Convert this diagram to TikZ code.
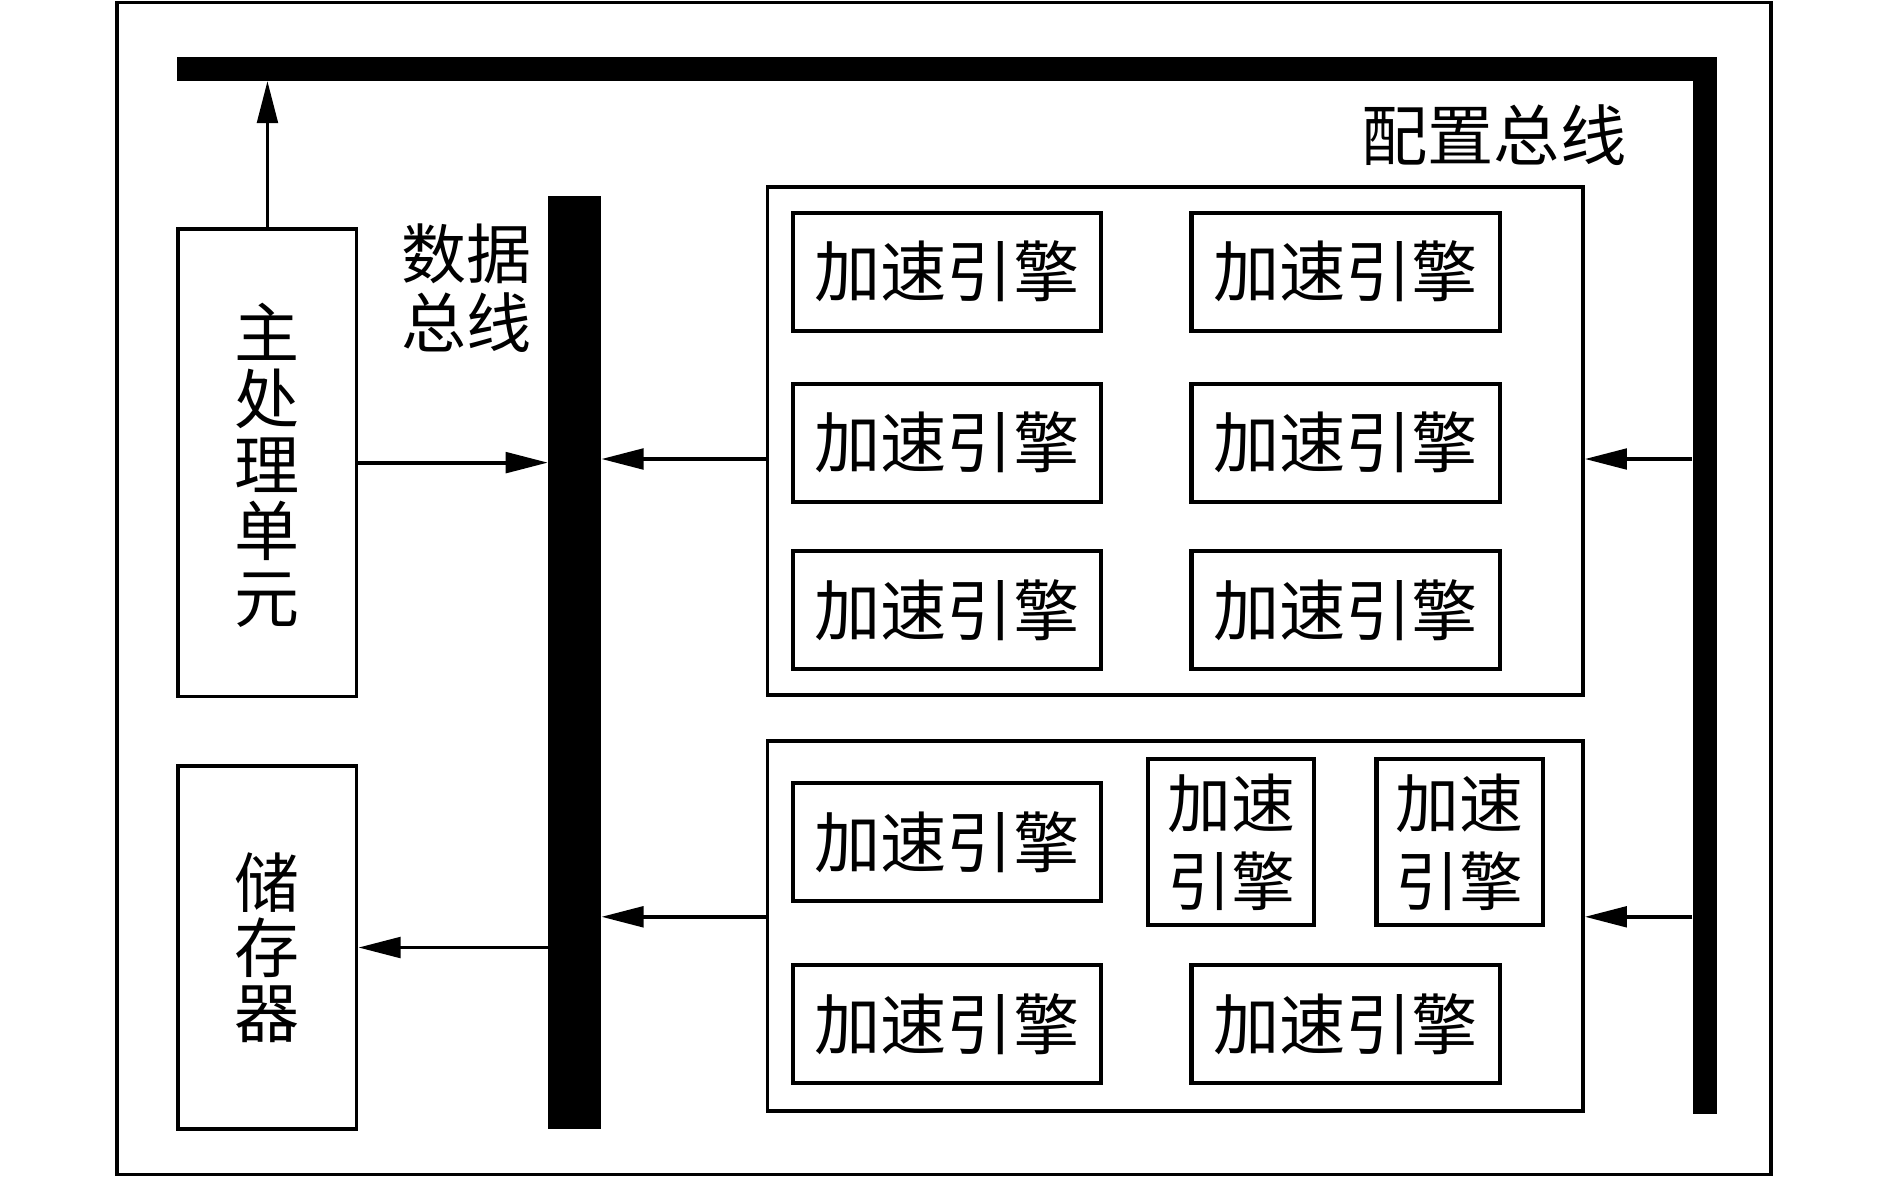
\documentclass[tikz,border=0pt]{standalone}
\usepackage{fontspec}
\newfontfamily\cjk{Noto Sans CJK SC}
\usetikzlibrary{arrows.meta}
\begin{document}
\begin{tikzpicture}[x=1pt,y=-1pt,
  box/.style={draw,line width=3pt,inner sep=0pt},
  eng/.style={box,line width=3.5pt,minimum width=256pt,minimum height=98pt,font=\cjk\fontsize{55}{60}\selectfont},
  tall/.style={box,line width=3.5pt,minimum width=138pt,minimum height=138pt,align=center,font=\cjk\fontsize{53}{65}\selectfont},
  bar/.style={fill=black,draw=none,inner sep=0pt},
  lbl/.style={inner sep=0pt,align=center,font=\cjk\fontsize{54}{57}\selectfont},
  arr/.style={line width=3.2pt,-{Triangle[length=35pt,width=17pt]}}
]
\useasboundingbox (0,0) rectangle (1568,978);
% outer frame
\node[box,minimum width=1373pt,minimum height=973pt] (outer) at (783.5,488.5) {};
% config bus (L shape)
\node[bar,minimum width=1278pt,minimum height=20pt] (topbar) at (786,57) {};
\node[bar,minimum width=20pt,minimum height=878pt] (rightbar) at (1415,486) {};
\node[lbl,font=\cjk\fontsize{55}{57}\selectfont] (cfglbl) at (1240,112) {配置总线};
% data bus
\node[bar,minimum width=44pt,minimum height=774pt] (databus) at (477,550) {};
\node[lbl] (datalbl) at (387,239) {数据\\总线};
% main processing unit
\node[box,minimum width=148pt,minimum height=388pt] (pu) at (222,384) {};
\node[lbl,font=\cjk\fontsize{54}{55}\selectfont] (putxt) at (222,386) {主\\处\\理\\单\\元};
% storage
\node[box,minimum width=148pt,minimum height=301pt] (st) at (222,786.5) {};
\node[lbl,font=\cjk\fontsize{54}{54}\selectfont] (sttxt) at (222,787) {储\\存\\器};
% upper group
\node[box,minimum width=677pt,minimum height=422pt] (upg) at (975.5,366) {};
\node[eng] (e1) at (786,225.5) {加速引擎};
\node[eng] (e2) at (1117,225.5) {加速引擎};
\node[eng] (e3) at (786,367.5) {加速引擎};
\node[eng] (e4) at (1117,367.5) {加速引擎};
\node[eng] (e5) at (786,506.5) {加速引擎};
\node[eng] (e6) at (1117,506.5) {加速引擎};
% lower group
\node[box,minimum width=677pt,minimum height=307pt] (lowg) at (975.5,768.5) {};
\node[eng] (f1) at (786,699) {加速引擎};
\node[tall] (f2) at (1022,699) {加速\\引擎};
\node[tall] (f3) at (1211.5,699) {加速\\引擎};
\node[eng] (f4) at (786,850) {加速引擎};
\node[eng] (f5) at (1117,850) {加速引擎};
% connectors
\draw[arr] (pu.north) -- (pu.north |- topbar.south);
\draw[arr] (pu.east) -- (databus.west |- pu.east);
\draw[arr] (databus.west |- st.east) -- (st.east);
\draw[arr] (upg.west |- 0,381) -- (databus.east |- 0,381);
\draw[arr] (lowg.west |- 0,761) -- (databus.east |- 0,761);
\draw[arr] (rightbar.west |- 0,381) -- (upg.east |- 0,381);
\draw[arr] (rightbar.west |- 0,761) -- (lowg.east |- 0,761);
\end{tikzpicture}
\end{document}
